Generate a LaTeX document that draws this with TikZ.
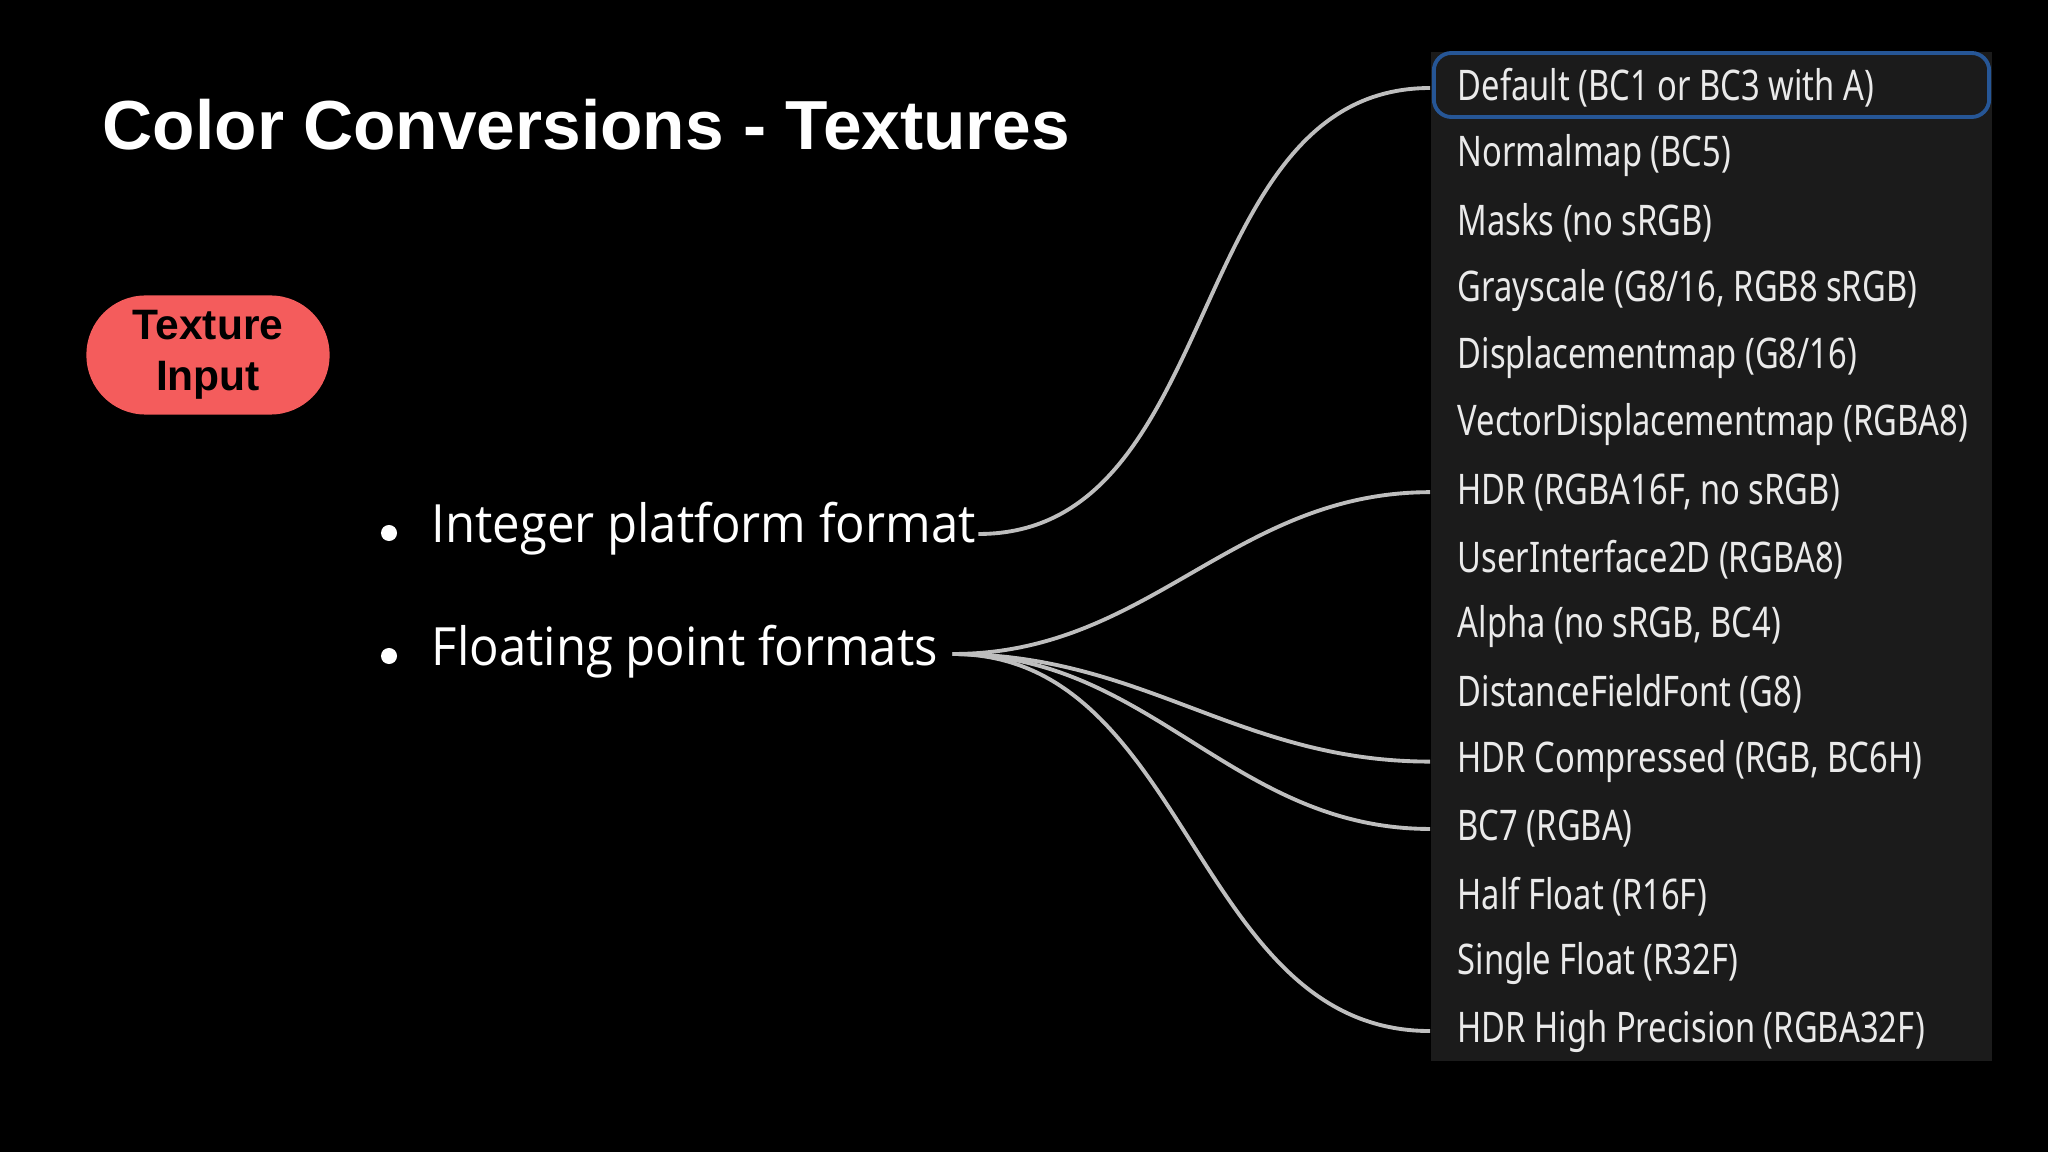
\documentclass[tikz,border=0pt]{standalone}
\usepackage{fontspec}
\setmainfont[FakeStretch=0.93]{Open Sans}
\newfontfamily\headfont{Liberation Sans}
\newfontfamily\listfont[FakeStretch=0.775]{Noto Sans}
\usetikzlibrary{positioning, calc}
\definecolor{panelgray}{RGB}{27,27,27}
\definecolor{selblue}{RGB}{38,86,150}
\definecolor{salmon}{RGB}{244,92,92}
\definecolor{wire}{RGB}{190,190,190}
\definecolor{itemtext}{RGB}{234,234,234}

\begin{document}
\begin{tikzpicture}[
  x=0.01cm, y=-0.01cm,
  title/.style={font=\headfont\bfseries\fontsize{19.75}{24}\selectfont, text=white, inner sep=0pt},
  pill/.style={rounded corners=0.59cm, fill=salmon, minimum width=2.43cm, minimum height=1.19cm,
    align=center, inner sep=0pt, text=black, font=\headfont\bfseries\fontsize{12.1}{14.6}\selectfont},
  bullet/.style={font=\fontsize{15}{18}\selectfont, text=white, inner sep=0pt},
  dot/.style={circle, fill=white, minimum size=0.16cm, inner sep=0pt},
  panel/.style={fill=panelgray, minimum width=5.61cm, minimum height=10.09cm, inner sep=0pt},
  selbox/.style={draw=selblue, line width=1.1pt, rounded corners=5pt, fill=panelgray,
    minimum width=5.55cm, minimum height=0.64cm, inner sep=0pt},
  item/.style={anchor=west, inner sep=0pt, text=itemtext, font=\listfont\fontsize{12}{14}\selectfont},
  wire/.style={draw=wire, line width=1.1pt}
]
\fill[black] (0,0) rectangle (2048,1152);
\useasboundingbox (0,0) rectangle (2048,1152);

\node[title, anchor=base west] (title) at (102,150) {Color Conversions - Textures};
\node[pill] (input) at (208,355) {Texture\\Input};

% bullet list
\node[bullet, anchor=base west] (int) at (431,543) {Integer platform format};
\node[bullet, anchor=base west] (floatpt) at (431,666) {Floating point formats};
\node[dot] (dotA) at (389,533) {};
\node[dot] (dotB) at (389,656) {};

% texture group dropdown
\node[panel] (panel) at (1711.5,556.5) {};
\node[selbox] (sel) at (1711.5,85) {};
\foreach \lbl [count=\i] in {{Default (BC1 or BC3 with A)}, {Normalmap (BC5)}, {Masks (no sRGB)},
    {Grayscale (G8/16, RGB8 sRGB)}, {Displacementmap (G8/16)}, {VectorDisplacementmap (RGBA8)},
    {HDR (RGBA16F, no sRGB)}, {UserInterface2D (RGBA8)}, {Alpha (no sRGB, BC4)},
    {DistanceFieldFont (G8)}, {HDR Compressed (RGB, BC6H)}, {BC7 (RGBA)},
    {Half Float (R16F)}, {Single Float (R32F)}, {HDR High Precision (RGBA32F)}}
  \node[item] (item\i) at (1457,{88+67.36*(\i-1)}) {\lbl};

% connectors
\draw[wire] ($(int.base east)+(2,-9)$) to[out=0, in=180] (panel.west |- item1);
\foreach \n in {7,11,12,15}
  \draw[wire] ($(floatpt.base east)+(14,-12)$) to[out=0, in=180] (panel.west |- item\n);
\end{tikzpicture}
\end{document}
